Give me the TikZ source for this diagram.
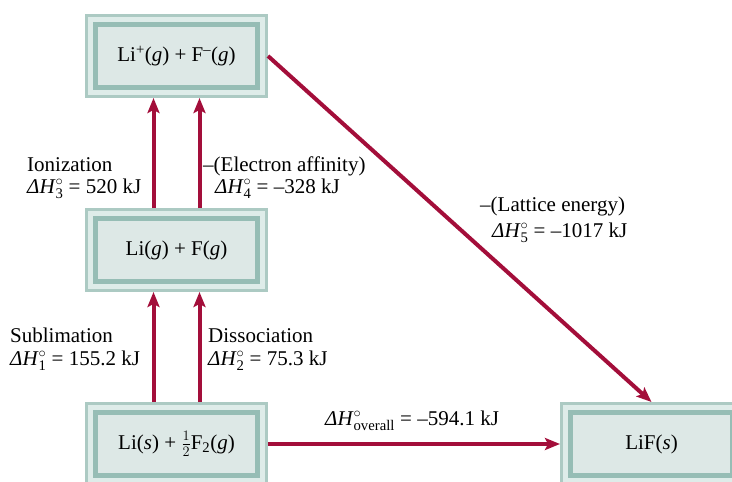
\documentclass[tikz,border=0pt]{standalone}
\usepackage{xcolor}
\usepackage{amsmath}
\usepackage{fontspec}
\setmainfont{LiberationSerif}[Extension=.ttf,UprightFont=*-Regular,ItalicFont=*-Italic,BoldFont=*-Bold,BoldItalicFont=*-BoldItalic]
\usepackage{tikz}
\usetikzlibrary{arrows.meta}

\definecolor{stepred}{RGB}{163,14,58}
\definecolor{facecol}{RGB}{221,232,230}
\definecolor{framedark}{RGB}{150,189,181}
\definecolor{framelight}{RGB}{222,236,233}
\definecolor{framemid}{RGB}{172,202,195}

\newcommand{\dH}[1]{\textit{ΔH}$^{\circ}_{\text{#1}}$}

\begin{document}
\begin{tikzpicture}[x=1pt,y=-1pt,
  font=\fontsize{21}{25}\selectfont,
  chembox/.style={fill=facecol, minimum width=157pt, minimum height=58pt,
    inner sep=0pt, outer sep=13pt,
    preaction={draw=framemid, line width=26pt},
    preaction={draw=framelight, line width=20pt},
    preaction={draw=framedark, line width=10pt}},
  stepline/.style={draw=stepred, line width=4pt,
    -{Stealth[length=15pt,width=12pt,inset=3pt]}},
  steplabel/.style={anchor=base west, inner sep=0pt}]
  \useasboundingbox (0,0) rectangle (732,482);
  \clip (0,0) rectangle (732,482);

  % Boxes
  \node[chembox] (ions) at (176.5,56) {Li\textsuperscript{+}(\textit{g}) + F\textsuperscript{--}(\textit{g})};
  \node[chembox] (atoms) at (176.5,250) {Li(\textit{g}) + F(\textit{g})};
  \node[chembox] (elems) at (176.5,444) {Li(\textit{s}) + $\frac{1}{2}$F\textsubscript{2}(\textit{g})};
  \node[chembox] (lif) at (651.5,444) {LiF(\textit{s})};

  % Steps up
  \draw[stepline] ([xshift=-23pt]elems.north) -- ([xshift=-23pt]atoms.south);
  \draw[stepline] ([xshift=23pt]elems.north) -- ([xshift=23pt]atoms.south);
  \draw[stepline] ([xshift=-23pt]atoms.north) -- ([xshift=-23pt]ions.south);
  \draw[stepline] ([xshift=23pt]atoms.north) -- ([xshift=23pt]ions.south);

  % Lattice and overall
  \draw[stepline] (ions.east) -- (lif.north);
  \draw[stepline] (elems.east) -- (lif.west);

  % Labels
  \node[steplabel] (sub1) at (10,342) {Sublimation};
  \node[steplabel] (sub2) at (10,365) {\dH{1} = 155.2 kJ};
  \node[steplabel] (dis1) at (208,342) {Dissociation};
  \node[steplabel] (dis2) at (208,365) {\dH{2} = 75.3 kJ};
  \node[steplabel] (ion1) at (27,171) {Ionization};
  \node[steplabel] (ion2) at (27,193) {\dH{3} = 520 kJ};
  \node[steplabel] (ea1) at (203,171) {--(Electron affinity)};
  \node[steplabel] (ea2) at (215,193) {\dH{4} = --328 kJ};
  \node[steplabel] (lat1) at (480,211) {--(Lattice energy)};
  \node[steplabel] (lat2) at (492,237) {\dH{5} = --1017 kJ};
  \node[steplabel] (ovr) at (325,425) {\dH{overall} = --594.1 kJ};
\end{tikzpicture}
\end{document}
